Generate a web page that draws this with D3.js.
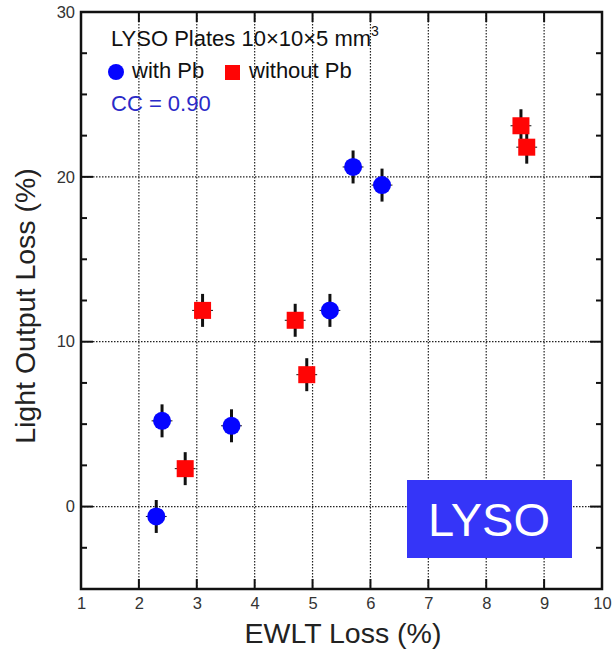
<!DOCTYPE html>
<html>
<head>
<meta charset="utf-8">
<script src="https://cdn.jsdelivr.net/npm/d3@7/dist/d3.min.js"></script>
<style>
  html, body { margin: 0; padding: 0; background: #fff; }
  svg { display: block; font-family: Arial, "Liberation Sans", sans-serif; }
</style>
</head>
<body>
<svg id="chart" width="614" height="654"></svg>
<script>
// EWLT loss vs light output loss for LYSO plates
const withPbX = [2.3, 2.4, 3.6, 5.3, 5.7, 6.2];
const withPbY = [-0.6, 5.2, 4.9, 11.9, 20.6, 19.5];
const withoutPbX = [2.8, 3.1, 4.7, 4.9, 8.6, 8.7];
const withoutPbY = [2.3, 11.9, 11.3, 8.0, 23.1, 21.8];
const yErr = 1.0;
const xErr = 0.18;
const xTicks = [1, 2, 3, 4, 5, 6, 7, 8, 9, 10];
const yTicks = [0, 10, 20, 30];
const yMinorTicks = [-2.5, 2.5, 5, 7.5, 12.5, 15, 17.5, 22.5, 25, 27.5];
const xGrid = [2, 3, 4, 5, 6, 7, 8, 9];
const yGrid = [0, 10, 20];

const mLeft = 81, mRight = 602, mTop = 12, mBottom = 589;
const svg = d3.select("#chart");

const x = d3.scaleLinear().domain([1, 10]).range([mLeft, mRight]);
const y = d3.scaleLinear().domain([-5, 30]).range([mBottom, mTop]);

// dotted grid
const grid = svg.append("g").attr("stroke", "#222").attr("stroke-width", 1.2)
  .attr("stroke-dasharray", "1.5,1.5");
grid.selectAll(".gx").data(xGrid).join("line")
  .attr("x1", d => x(d)).attr("x2", d => x(d)).attr("y1", mTop).attr("y2", mBottom);
grid.selectAll(".gy").data(yGrid).join("line")
  .attr("y1", d => y(d)).attr("y2", d => y(d)).attr("x1", mLeft).attr("x2", mRight);

// inward ticks on all four sides
function inward(scale, vals, len, orient) {
  const horiz = orient === "b" || orient === "t";
  svg.append("g").selectAll("line").data(vals).join("line")
    .attr("stroke", "#111").attr("stroke-width", 2)
    .attr("x1", d => horiz ? scale(d) : (orient === "l" ? mLeft : mRight))
    .attr("x2", d => horiz ? scale(d) : (orient === "l" ? mLeft + len : mRight - len))
    .attr("y1", d => horiz ? (orient === "b" ? mBottom : mTop) : scale(d))
    .attr("y2", d => horiz ? (orient === "b" ? mBottom - len : mTop + len) : scale(d));
}
inward(x, xTicks, 10, "b");
inward(x, xTicks, 10, "t");
inward(y, yTicks, 12, "l");
inward(y, yTicks, 12, "r");
inward(y, yMinorTicks, 6, "l");
inward(y, yMinorTicks, 6, "r");

// frame
svg.append("rect").attr("x", mLeft).attr("y", mTop)
  .attr("width", mRight - mLeft).attr("height", mBottom - mTop)
  .attr("fill", "none").attr("stroke", "#111").attr("stroke-width", 2.5);

// tick labels via d3 axes (labels only)
const xAxis = svg.append("g").attr("transform", `translate(0,${mBottom})`)
  .call(d3.axisBottom(x).tickValues(xTicks).tickSize(0).tickPadding(8).tickFormat(d3.format("d")));
const yAxis = svg.append("g").attr("transform", `translate(${mLeft},0)`)
  .call(d3.axisLeft(y).tickValues(yTicks).tickSize(0).tickPadding(6).tickFormat(d3.format("d")));
[xAxis, yAxis].forEach(a => {
  a.select(".domain").remove();
  a.selectAll("text").attr("font-size", 16.5).attr("fill", "#333")
    .attr("font-family", "Arial, 'Liberation Sans', sans-serif");
});

// axis titles
svg.append("text").attr("x", 343).attr("y", 643)
  .attr("text-anchor", "middle").attr("font-size", 28.5).attr("fill", "#222")
  .text("EWLT Loss (%)");
svg.append("text").attr("transform", `translate(35,306) rotate(-90)`)
  .attr("text-anchor", "middle").attr("font-size", 28.5).attr("fill", "#222")
  .text("Light Output Loss (%)");

// data points with error bars
const withPb = withPbX.map((v, i) => ({ x: v, y: withPbY[i] }));
const withoutPb = withoutPbX.map((v, i) => ({ x: v, y: withoutPbY[i] }));

function errorBars(data) {
  const g = svg.append("g").attr("stroke", "#111");
  g.selectAll(".ev").data(data).join("line").attr("class", "ev")
    .attr("stroke-width", 3)
    .attr("x1", d => x(d.x)).attr("x2", d => x(d.x))
    .attr("y1", d => y(d.y - yErr)).attr("y2", d => y(d.y + yErr));
  g.selectAll(".eh").data(data).join("line").attr("class", "eh")
    .attr("stroke-width", 1)
    .attr("x1", d => x(d.x - xErr)).attr("x2", d => x(d.x + xErr))
    .attr("y1", d => y(d.y)).attr("y2", d => y(d.y));
}
errorBars(withPb);
errorBars(withoutPb);

const blue = "#0505ff";
const red = "#ff0505";
const sq = 17;
svg.append("g").selectAll("rect").data(withoutPb).join("rect")
  .attr("x", d => x(d.x) - sq / 2).attr("y", d => y(d.y) - sq / 2)
  .attr("width", sq).attr("height", sq).attr("fill", red);
svg.append("g").selectAll("circle").data(withPb).join("circle")
  .attr("cx", d => x(d.x)).attr("cy", d => y(d.y)).attr("r", 9).attr("fill", blue);

// legend
const lg = svg.append("g").attr("font-size", 22).attr("fill", "#111");
const title = lg.append("text").attr("x", 111).attr("y", 46);
title.append("tspan").text("LYSO Plates 10×10×5 mm");
title.append("tspan").attr("font-size", 14).attr("dy", -10).text("3");
lg.append("circle").attr("cx", 116).attr("cy", 72).attr("r", 8).attr("fill", blue);
lg.append("text").attr("x", 132).attr("y", 78).text("with Pb");
lg.append("rect").attr("x", 225).attr("y", 65).attr("width", 15).attr("height", 15).attr("fill", red);
lg.append("text").attr("x", 249).attr("y", 78).text("without Pb");
lg.append("text").attr("x", 111).attr("y", 111).attr("fill", "#2a2ac8").text("CC = 0.90");

// LYSO tag
svg.append("rect").attr("x", 407).attr("y", 480).attr("width", 165).attr("height", 78)
  .attr("fill", "#3535f8");
svg.append("text").attr("x", 489).attr("y", 536).attr("text-anchor", "middle")
  .attr("font-size", 47).attr("fill", "#fff").text("LYSO");
</script>
</body>
</html>
